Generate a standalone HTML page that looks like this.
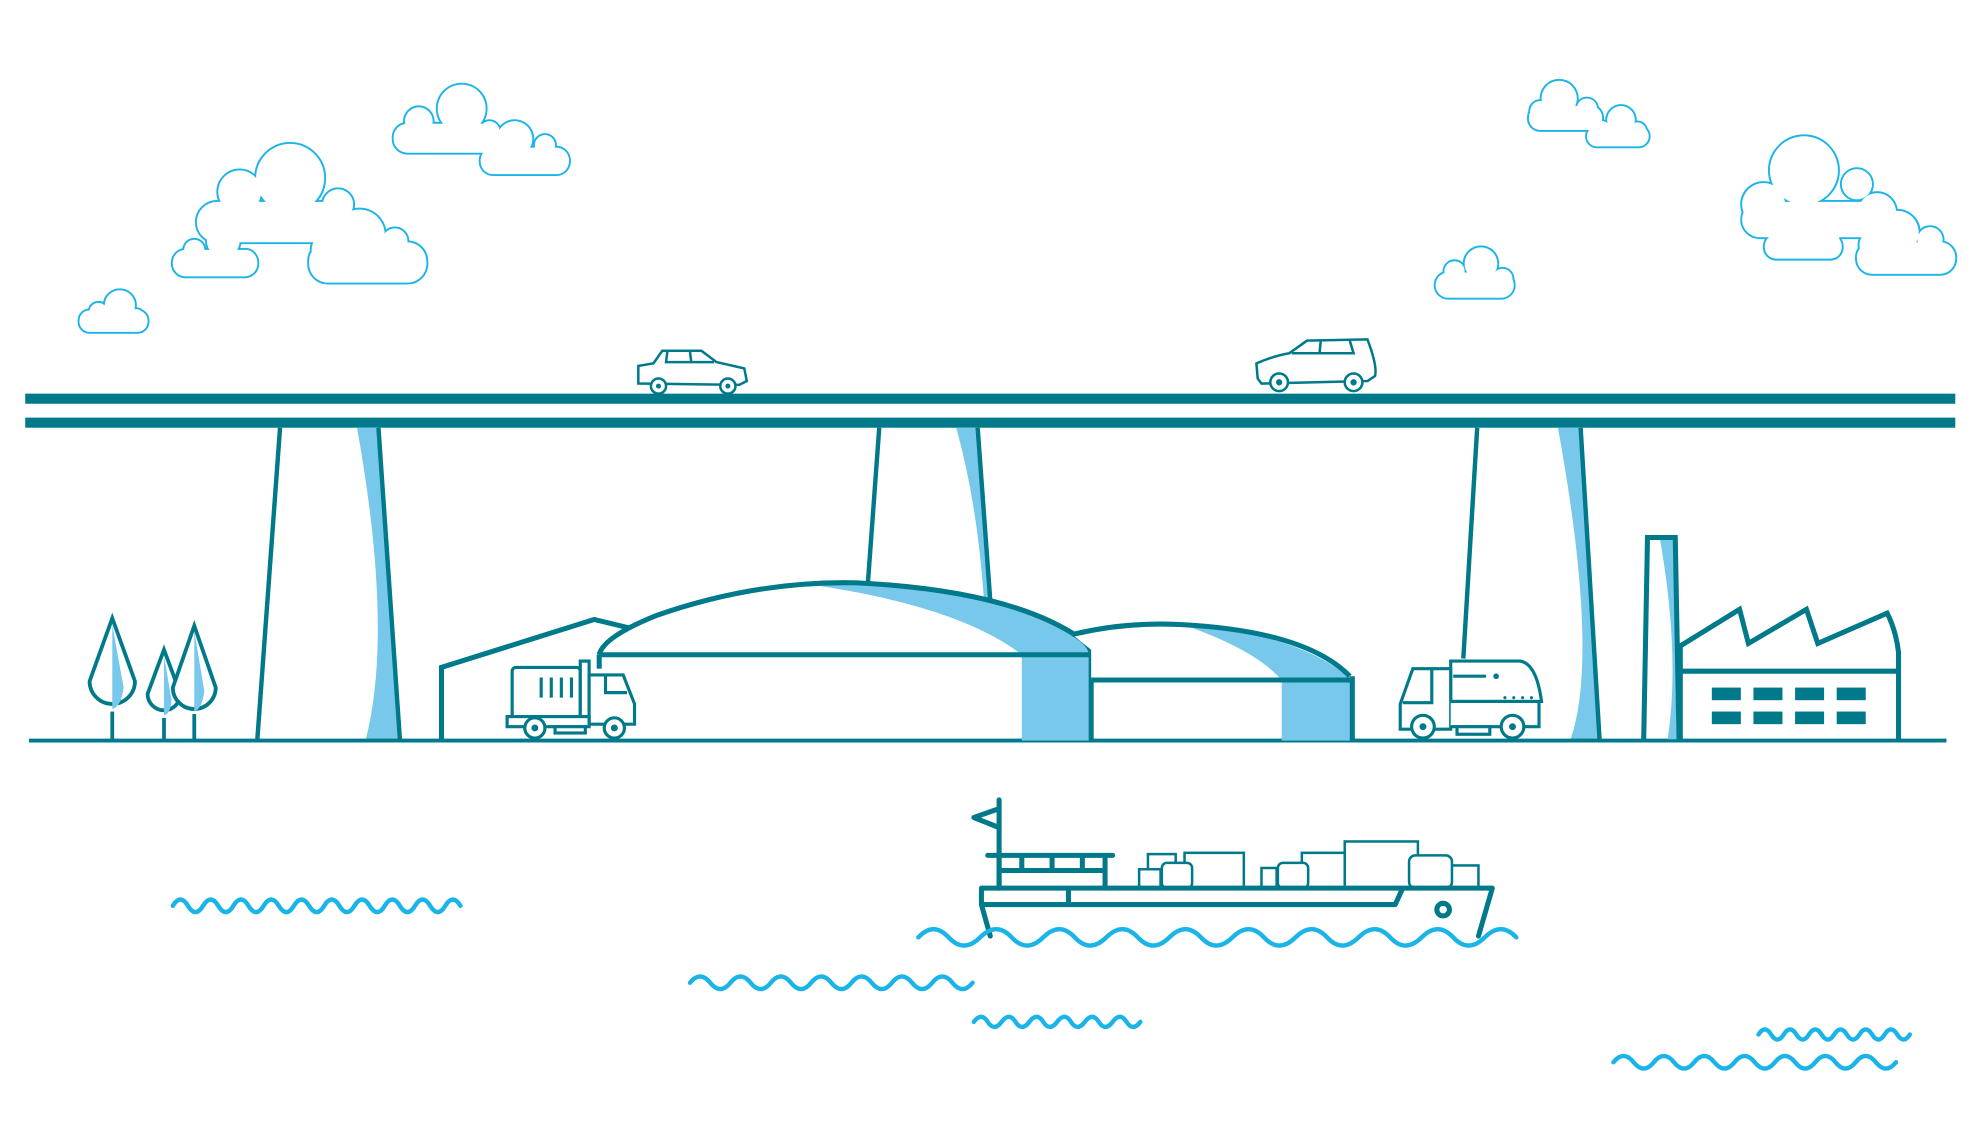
<!DOCTYPE html>
<html><head><meta charset="utf-8"><style>html,body{margin:0;padding:0;background:#fff}svg{display:block}</style></head>
<body>
<svg width="1978" height="1138" viewBox="0 0 1568 902" xmlns="http://www.w3.org/2000/svg">
<defs>
<g id="cl1"><rect x="63" y="246" width="54" height="17" rx="8"/><circle cx="95" cy="242" r="12"/><circle cx="78" cy="247" r="7"/><circle cx="108" cy="251" r="6"/></g>
<g id="cl2"><rect x="156" y="160" width="126" height="32" rx="16"/><circle cx="230" cy="141" r="27"/><circle cx="190" cy="152" r="17"/><circle cx="268" cy="162" r="12"/></g>
<g id="cl3"><rect x="137" y="198" width="67" height="21" rx="10"/><circle cx="177" cy="191" r="13"/><circle cx="154" cy="198" r="8"/><circle cx="195" cy="206" r="8"/></g>
<g id="cl4"><rect x="245" y="192" width="93" height="32" rx="15"/><circle cx="285" cy="186" r="20"/><circle cx="313" cy="191" r="10"/><circle cx="260" cy="198" r="13"/><circle cx="328" cy="209" r="10"/></g>
<g id="cl5"><rect x="312" y="98" width="82" height="23" rx="11"/><circle cx="366" cy="86" r="19"/><circle cx="332" cy="96" r="11"/><circle cx="388" cy="104" r="8"/></g>
<g id="cl6"><rect x="381" y="117" width="70" height="21" rx="10"/><circle cx="408" cy="110" r="14"/><circle cx="392" cy="119" r="9"/><circle cx="432" cy="115" r="8"/><circle cx="443" cy="127" r="8"/></g>
<g id="cl7"><rect x="1212" y="84" width="58" height="19" rx="9"/><circle cx="1236" cy="78" r="14"/><circle cx="1221" cy="88" r="8"/><circle cx="1258" cy="86" r="8"/></g>
<g id="cl8"><rect x="1258" y="100" width="49" height="16" rx="8"/><circle cx="1285" cy="95" r="11"/><circle cx="1270" cy="103" r="7"/><circle cx="1298" cy="104" r="7"/></g>
<g id="cl9"><rect x="1138" y="216" width="62" height="20" rx="10"/><circle cx="1174" cy="209" r="13"/><circle cx="1153" cy="215" r="8"/><circle cx="1191" cy="221" r="8"/></g>
<g id="cl10"><rect x="1381" y="160" width="124" height="28" rx="14"/><circle cx="1430" cy="135" r="27"/><circle cx="1398" cy="162" r="17"/><circle cx="1472" cy="146" r="12"/><circle cx="1488" cy="168" r="15"/></g>
<g id="cl11"><rect x="1399" y="186" width="61" height="19" rx="9"/><circle cx="1432" cy="178" r="14"/><circle cx="1412" cy="187" r="8"/><circle cx="1450" cy="189" r="8"/></g>
<g id="cl12"><rect x="1472" y="192" width="78" height="25" rx="12"/><circle cx="1504" cy="184" r="17"/><circle cx="1485" cy="194" r="11"/><circle cx="1530" cy="190" r="10"/><circle cx="1540" cy="204" r="9"/></g>
</defs>
<g fill="#1ab4e8"><g stroke="#1ab4e8" stroke-width="3">
<use href="#cl2"/><use href="#cl1"/><use href="#cl3"/><use href="#cl4"/><use href="#cl5"/><use href="#cl6"/><use href="#cl7"/><use href="#cl8"/><use href="#cl9"/><use href="#cl10"/><use href="#cl11"/><use href="#cl12"/></g></g>
<g fill="#fff"><use href="#cl2"/><use href="#cl1"/><use href="#cl3"/><use href="#cl4"/><use href="#cl5"/><use href="#cl6"/><use href="#cl7"/><use href="#cl8"/><use href="#cl9"/><use href="#cl10"/><use href="#cl11"/><use href="#cl12"/></g>

<rect x="20" y="312" width="1530" height="8" fill="#007a8a"/>
<rect x="20" y="331" width="1530" height="8" fill="#007a8a"/>
<g stroke="#007a8a" stroke-width="3.5" fill="none">
<path d="M283 339 Q312 500 290 586 L317 586 L300 339Z" fill="#78c8ec" stroke="none"/>
<path d="M758 339 Q775 400 780 476 L785 476 L775 339Z" fill="#78c8ec" stroke="none"/>
<path d="M1235 339 Q1268 520 1245 586 L1268 586 L1253 339Z" fill="#78c8ec" stroke="none"/>
<path d="M222 339 L204 586 M300 339 L317 586"/>
<path d="M697 339 L688 462 M775 339 L785 476"/>
<path d="M1171 339 L1160 522 M1253 339 L1268 586"/>
</g>
<line x1="23" y1="587" x2="1543" y2="587" stroke="#007a8a" stroke-width="3"/>
<g stroke="#007a8a" stroke-width="3" fill="#fff">
<path d="M89 490 L107 540 A18 18 0 1 1 71 540Z"/><path d="M89 495 L98 545 Q96 560 89 562Z" fill="#78c8ec" stroke="none"/><line x1="89" y1="564" x2="89" y2="587"/>
<path d="M130 515 L143 550 A13 13 0 1 1 117 550Z"/><path d="M130 520 L136 555 Q135 566 130 567Z" fill="#78c8ec" stroke="none"/><line x1="130" y1="569" x2="130" y2="587"/>
<path d="M154 496 L171 545 A17 17 0 1 1 137 545Z"/><path d="M154 500 L162 548 Q160 562 154 564Z" fill="#78c8ec" stroke="none"/><line x1="154" y1="566" x2="154" y2="587"/>
</g>
<path d="M350 587 L350 529 L471 491 L500 498" stroke="#007a8a" stroke-width="4" fill="none"/>
<path d="M475 519 Q478 505 520 488 Q600 460 680 462 Q800 468 855 505 Q865 512 865 519Z" fill="#fff"/>
<path d="M640 463 Q760 480 810 519 L865 519 Q860 505 840 495 Q760 462 640 463Z" fill="#78c8ec"/>
<rect x="810" y="519" width="55" height="68" fill="#78c8ec"/>
<g stroke="#007a8a" stroke-width="4" fill="none">
<path d="M475 519 Q478 505 520 488 Q600 460 680 462 Q800 468 855 505 Q865 512 865 519"/>
<line x1="475" y1="519" x2="865" y2="519"/><line x1="475" y1="519" x2="475" y2="530"/>
<line x1="865" y1="519" x2="865" y2="587"/>
</g>
<path d="M850 503 Q890 493 935 495 Q1020 500 1072 539 L865 539 L865 515Z" fill="#fff"/>
<path d="M940 496 Q995 515 1016 539 L1072 539 Q1030 502 940 496Z" fill="#78c8ec"/>
<rect x="1016" y="539" width="56" height="48" fill="#78c8ec"/>
<g stroke="#007a8a" stroke-width="4" fill="none">
<path d="M850 503 Q890 493 935 495 Q1035 500 1070 536"/>
<line x1="865" y1="539" x2="1072" y2="539"/><line x1="1072" y1="536" x2="1072" y2="587"/>
</g>
<g stroke="#007a8a" stroke-width="2.5" fill="#fff">
<rect x="406" y="529" width="54" height="42" rx="3"/>
<path d="M429 537v16M437 537v16M445 537v16M453 537v16" />
<rect x="460" y="524" width="7" height="50"/>
<path d="M467 535 L494 535 L503 558 L503 574 L467 574Z"/>
<path d="M480 535 L480 549 L497 549" fill="none"/>
<rect x="402" y="568" width="65" height="8"/>
<rect x="440" y="576" width="24" height="5"/>
<circle cx="424" cy="577" r="8"/><circle cx="487" cy="577" r="8"/>
<circle cx="424" cy="577" r="1.5" fill="#007a8a"/><circle cx="487" cy="577" r="1.5" fill="#007a8a"/>
</g>
<g stroke="#007a8a" stroke-width="2.5" fill="#fff">
<path d="M1150 524 L1205 524 Q1218 526 1222 556 L1150 556Z"/>
<path d="M1152 536 L1178 536" fill="none"/><circle cx="1186" cy="536" r="1" fill="#007a8a"/>
<path d="M1193 553h0M1200 553h0M1207 553h0M1214 553h0" stroke-linecap="round" stroke-width="2.5"/>
<path d="M1120 530 L1150 530 L1150 578 L1110 578 L1110 558Z"/>
<path d="M1135 530 L1135 557 L1112 557" fill="none"/>
<path d="M1150 556 L1220 556 L1220 576 L1150 576"/>
<rect x="1155" y="576" width="26" height="6"/>
<circle cx="1128" cy="576" r="9"/><circle cx="1199" cy="576" r="9"/>
<circle cx="1128" cy="576" r="1.5" fill="#007a8a"/><circle cx="1199" cy="576" r="1.5" fill="#007a8a"/>
</g>
<path d="M1316 428 L1327 428 L1329 586 L1322 586 Q1332 520 1316 428Z" fill="#78c8ec"/>
<g stroke="#007a8a" stroke-width="4" fill="none">
<path d="M1303 586 L1306 426 L1328 426 L1331 586"/>
<path d="M1332 586 L1332 512 L1379 483 L1386 510 L1432 483 L1441 510 L1496 486 Q1503 500 1505 517 L1505 586"/>
<line x1="1332" y1="532" x2="1505" y2="532"/>
</g>
<g fill="#007a8a">
<rect x="1357" y="545" width="23" height="10"/><rect x="1390" y="545" width="23" height="10"/><rect x="1423" y="545" width="23" height="10"/><rect x="1456" y="545" width="23" height="10"/>
<rect x="1357" y="564" width="23" height="10"/><rect x="1390" y="564" width="23" height="10"/><rect x="1423" y="564" width="23" height="10"/><rect x="1456" y="564" width="23" height="10"/>
</g>
<g stroke="#007a8a" stroke-width="2" fill="#fff">
<path d="M506 304 L506 290 L518 288 L525 278 L556 278 L568 287 L590 292 L592 302 L586 305Z"/>
<path d="M529 279 L528 287 L566 287" fill="none"/><path d="M547 279 L548 287" fill="none"/>
<circle cx="522" cy="306" r="6"/><circle cx="577" cy="306" r="6"/>
<circle cx="522" cy="306" r="1" fill="#007a8a"/><circle cx="577" cy="306" r="1" fill="#007a8a"/>
<path d="M997 300 L996 288 Q1010 282 1022 280 L1036 270 L1084 269 Q1092 290 1090 298 L1084 302 L1000 304Z"/>
<path d="M1024 280 L1073 280 L1070 270 M1047 270 L1046 280" fill="none"/>
<circle cx="1014" cy="303" r="7"/><circle cx="1073" cy="303" r="7"/>
<circle cx="1014" cy="303" r="1.5" fill="#007a8a"/><circle cx="1073" cy="303" r="1.5" fill="#007a8a"/>
</g>
<g stroke="#007a8a" stroke-width="2" fill="#fff">
<rect x="903" y="689" width="17" height="15"/><rect x="910" y="677" width="22" height="12"/><rect x="939" y="676" width="47" height="28"/>
<rect x="921" y="684" width="24" height="20" rx="4"/>
<rect x="1000" y="688" width="12" height="16"/><rect x="1032" y="676" width="36" height="28"/><rect x="1066" y="667" width="58" height="37"/>
<rect x="1013" y="684" width="24" height="20" rx="4"/>
<rect x="1148" y="686" width="24" height="18"/><rect x="1117" y="678" width="34" height="26" rx="5"/>
</g>
<g stroke="#007a8a" stroke-width="4" fill="none" stroke-linecap="round" stroke-linejoin="round">
<path d="M792 634 L792 704"/><path d="M792 641 L772 648 L792 656"/>
<path d="M783 678 L882 678"/><path d="M792 678 L792 704 M876 678 L876 704 M792 690 L876 690"/>
<path d="M810 678v12M834 678v12M858 678v12"/>
<path d="M778 704 L1183 704 L1172 742 M778 704 L778 717 L1106 717 L1112 704 M847 704 L847 717 M778 717 L785 742"/>
<circle cx="1144" cy="721" r="5"/>
</g>
<g stroke="#1ab4e8" stroke-width="3.5" fill="none" stroke-linecap="round">
<path d="M137 718 q6 -10 12 0 t12 0 t12 0 t12 0 t12 0 t12 0 t12 0 t12 0 t12 0 t12 0 t12 0 t12 0 t12 0 t12 0 t12 0 t12 0 t12 0 t12 0 t12 0"/>
<path d="M728 743 q12 -13 24 0 t25 0 t25 0 t25 0 t25 0 t25 0 t25 0 t25 0 t25 0 t25 0 t25 0 t25 0 t25 0 t25 0 t25 0 t25 0 t25 0 t25 0 t25 0"/>
<path d="M547 779 q8 -10 16 0 t16 0 t16 0 t16 0 t16 0 t16 0 t16 0 t16 0 t16 0 t16 0 t16 0 t16 0 t16 0 t16 0"/>
<path d="M772 810 q6 -8 11 0 t11 0 t11 0 t11 0 t11 0 t11 0 t11 0 t11 0 t11 0 t11 0 t11 0 t11 0"/>
<path d="M1279 842 q8 -10 16 0 t16 0 t16 0 t16 0 t16 0 t16 0 t16 0 t16 0 t16 0 t16 0 t16 0 t16 0 t16 0 t16 0"/>
<path d="M1394 820 q5 -8 10 0 t10 0 t10 0 t10 0 t10 0 t10 0 t10 0 t10 0 t10 0 t10 0 t10 0 t10 0"/>
</g>
</svg>
</body></html>
